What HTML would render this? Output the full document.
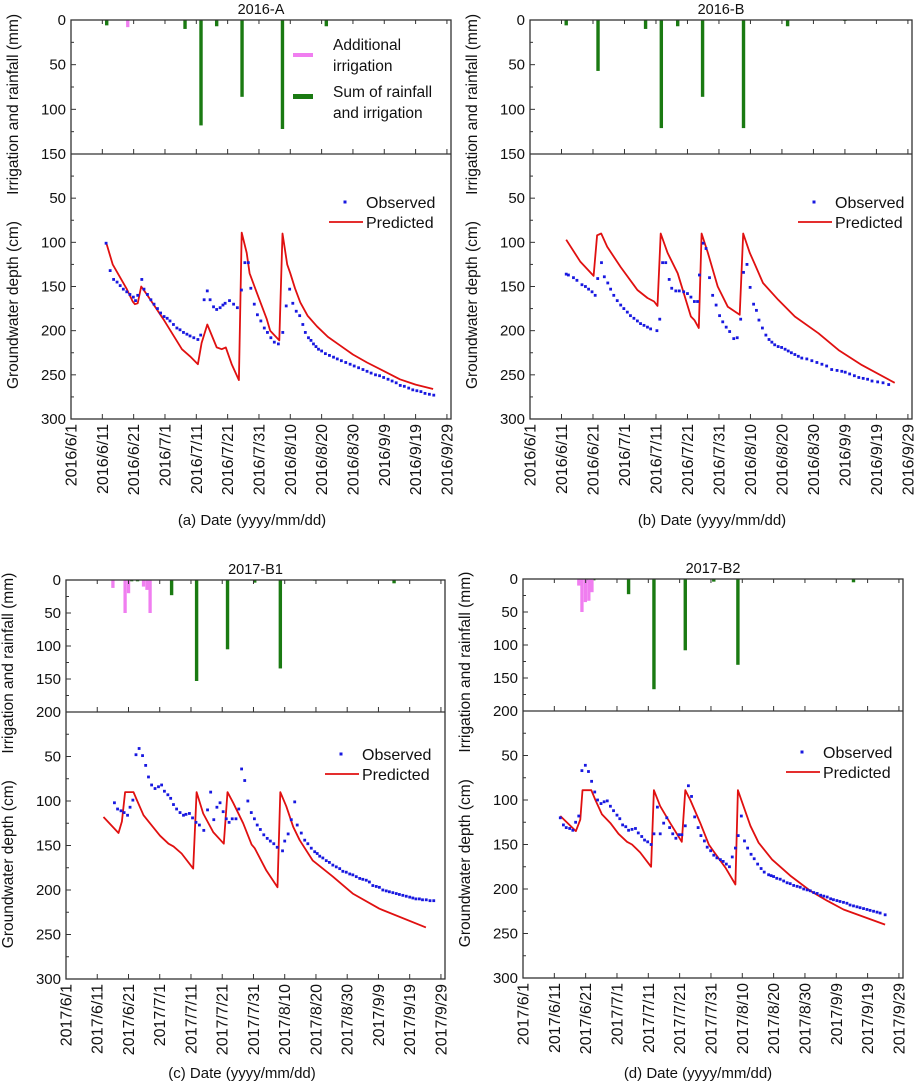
<!DOCTYPE html>
<html><head><meta charset="utf-8"><style>
body{margin:0;background:#fff;}
svg{display:block;font-family:"Liberation Sans",sans-serif;}
</style></head><body>
<svg id="fig" width="923" height="1086" viewBox="0 0 923 1086" xmlns="http://www.w3.org/2000/svg"></svg>
<script>
// ===== Panel (a) 2016-A =====
const aIrrDays=[18.1];
const aIrrVals=[8];
const aSumDays=[11.4,36.4,41.5,46.5,54.6,67.5,81.5];
const aSumVals=[6,10,118,7,86,122,7];
const aPredDays=[11.2,13.3,17.8,19.7,20.4,21.3,22.4,24.2,29.5,35.4,38,40.5,41.7,43.5,46.5,48.1,49.4,51.3,53.6,54.5,56.1,57,59.3,62.5,63.6,66.5,67.5,69,70,71.5,73.2,75.5,78.5,82,86,90,94.5,100,105,110,115.6];
const aPredVals=[100,125,153,167,170,169,150,159,187,221,229,238,214,193,219,221,219,238,256,89,112,135,157,187,200,211,90,125,135,152,168,183,195,207,217,227,236,246,255,261,266];
const aObsDays=[11.2,12.5,13.6,14.7,15.7,16.7,17.8,18.8,19.9,20.6,21.3,22.6,23.3,24.4,25.5,26.5,27.6,28.6,29.7,30.7,31.6,32.7,33.8,34.8,35.9,37,38,39.2,40.5,41.4,42.5,43.5,44.4,45.5,46.5,47.6,48.5,49.2,50.6,51.9,53.1,54.4,55.5,56.6,57.4,58.5,59.5,60.6,61.7,62.7,63.8,64.9,66.2,67.6,68.7,69.8,70.8,71.9,73,74,74.8,75.8,76.6,77.4,78.2,79,80,81.2,82.5,83.8,85,86.3,87.7,89.1,90.4,91.8,93.2,94.5,95.8,97.2,98.5,99.8,101.2,102.5,103.8,105.1,106.4,107.8,109.1,110.4,111.7,113,114.4,115.8];
const aObsVals=[101,132,142,145,149,153,156,159,162,166,160,142,153,159,165,170,175,180,184,186,189,193,197,199,202,204,206,208,210,205,165,155,165,173,176,174,171,169,166,170,174,154,123,123,152,170,182,189,197,202,208,213,215,202,172,153,169,178,183,193,202,208,211,215,218,221,223,226,228,230,232,234,236,238,240,242,244,246,248,250,251,253,255,257,259,262,263,265,267,268,269,271,272,273];
// ===== Panel (b) 2016-B =====
const bIrrDays=[];
const bIrrVals=[];
const bSumDays=[11.5,21.6,36.7,41.7,46.9,54.8,67.8,81.8,100];
const bSumVals=[6,57,10,121,7,86,121,7,1];
const bPredDays=[11.5,16,20.2,21.3,22.6,24.5,28.8,34.1,37.3,39.4,40.5,41.5,43.7,46.9,51.1,52.2,53.6,54.5,56.5,59.6,62.8,66.6,67.7,69.8,71.4,74,78.8,84.1,91.6,98,105.4,115.8];
const bPredVals=[97,122,138,92,90,105,128,154,163,167,172,90,112,135,184,188,197,90,112,150,173,182,90,112,125,146,165,184,203,222,239,259];
const bObsDays=[11.5,12.2,13.8,14.9,16.5,17.6,18.6,19.7,20.7,21.5,22.7,23.6,24.7,25.6,26.6,27.7,28.8,29.8,30.9,31.9,33,34.1,35.1,36.2,37.3,38.3,40.3,41.2,42.1,43.1,44.2,45,46.3,47.4,48.8,50,51.1,52.2,53.2,53.8,55,55.9,57,58,59.1,60.2,61.2,62.3,63.4,64.7,65.8,66.9,67.8,68.9,69.9,71,71.9,72.7,73.8,74.9,75.9,76.8,77.7,78.8,79.9,81,82,83,84.1,85.2,86.3,87.9,89.5,91.1,92.7,94.2,95.8,97.5,99,100.1,101.5,103,104.4,105.8,107.2,108.6,110.4,112.1,113.9];
const bObsVals=[136,137,140,143,148,150,153,156,160,141,123,139,146,153,160,166,171,175,179,183,186,189,192,194,196,198,200,187,123,123,142,152,155,155,156,158,162,167,167,137,101,107,140,160,171,183,190,196,201,209,208,187,134,125,151,170,177,188,197,205,210,213,216,218,219,221,223,225,227,229,231,232,234,236,238,240,244,245,246,247,249,251,253,254,255,257,258,259,261];
// ===== Panel (c) 2017-B1 =====
const cIrrDays=[15,18.9,20,24.8,25.9,26.9];
const cIrrVals=[12,50,20,10,15,50];
const cSumDays=[21,22.9,33.8,41.8,51.7,60.4,68.6,79.6,105];
const cSumVals=[2,2,23,153,105,4,134,1,5];
const cPredDays=[12,16.8,17.9,18.9,21.6,22.7,24.8,26.9,30.1,32.8,34.4,37,40.7,41.8,43.9,47.1,50.5,51.7,53.5,56.7,59.4,60.4,64.1,67.7,68.6,70.5,72.7,74.8,79,85.4,91.8,100.3,115.2];
const cPredVals=[118,136,123,90,90,99,116,125,139,148,151,159,176,90,114,135,148,90,102,125,149,153,178,197,90,106,129,144,167,185,204,221,242];
const cObsDays=[15.5,16.5,17.6,18.6,19.7,20.5,21.4,22.4,23.4,24.5,25.5,26.4,27.4,28.5,29.6,30.6,31.5,32.6,33.5,34.4,35.4,36.5,37.6,38.4,39.5,40.5,41.6,42.7,44.1,45.3,46.3,47.3,48.3,49.3,50.3,51.3,52.2,53.2,54.4,55.3,56.2,57.2,58.2,59.3,60.3,61.2,62.2,63.3,64.4,65.4,66.5,67.6,69.3,70,71.1,72.1,73.2,74,75.3,76.4,77.4,78.5,79.6,80.4,81.2,82.2,83.3,84.3,85.4,86.5,87.6,88.6,89.7,90.8,91.8,92.9,94,95,96.1,97.1,98.2,99.3,100.3,101.4,102.5,103.5,104.6,105.7,106.7,107.8,108.9,110,111,112,113.1,114.1,115.3,116.5,117.7,118.9];
const cObsVals=[102,109,111,113,116,107,99,48,41,49,60,73,82,86,84,82,89,93,97,104,109,113,116,115,114,119,124,127,133,110,90,121,107,102,112,120,124,120,120,109,64,77,100,113,120,127,132,138,142,145,148,152,156,145,137,121,101,127,136,144,148,153,157,159,162,164,167,169,172,174,176,179,180,182,183,185,187,188,189,191,195,196,197,200,201,202,203,204,205,206,207,208,209,210,210,211,211,212,212];
// ===== Panel (d) 2017-B2 =====
const dIrrDays=[17.8,18.8,19.9,21,22];
const dIrrVals=[10,50,35,33,20];
const dSumDays=[20.4,22.6,33.7,41.8,51.8,60.9,68.6,105.5];
const dSumVals=[2,2,23,167,108,4,130,5];
const dPredDays=[11.9,16.9,18.3,19,21.8,23.1,25.2,27.9,30.5,33.2,34.8,37.4,40.9,41.8,43.8,47,50.7,51.8,53.4,56.6,59.3,60.9,64.6,67.8,68.6,70.4,72.6,75.2,79.5,85.3,91.7,97,102.3,115.6];
const dPredVals=[118,135,122,89,89,100,116,126,138,147,150,159,175,89,107,126,147,89,100,126,150,158,176,195,89,107,129,148,167,185,202,213,223,240];
const dObsDays=[11.9,12.9,13.8,14.9,15.9,16.8,17.8,18.8,19.9,20.9,21.9,22.9,23.8,24.9,25.9,26.9,27.9,28.9,30,30.9,31.8,32.8,33.7,34.8,35.9,36.8,37.9,38.8,39.8,40.9,41.8,42.9,43.8,44.9,45.9,46.8,47.8,48.8,49.8,50.7,51.8,52.8,53.8,54.8,55.9,56.8,57.9,58.8,59.9,60.9,61.9,63,63.9,64.9,65.9,66.8,67.8,68.7,69.7,70.7,71.7,72.8,73.8,74.9,76,77,78.4,79.2,80,81,82.1,83.2,84.3,85.3,86.4,87.5,88.5,89.6,90.7,91.7,92.8,93.9,95,96,97.1,98.2,99.1,100.2,101.2,102.3,103.4,104.4,105.5,106.6,107.6,108.7,109.8,110.8,111.9,113,114,115.6];
const dObsVals=[120,128,131,132,134,125,118,67,61,68,79,91,100,104,102,101,107,112,117,121,128,130,134,133,132,137,141,145,147,150,138,108,138,126,120,131,138,143,139,139,129,84,96,119,131,140,146,153,157,162,165,167,169,172,175,164,154,140,118,146,154,161,166,172,177,181,184,185,186,188,189,191,193,194,196,197,198,200,201,202,204,205,207,208,209,211,212,213,214,215,216,218,219,220,221,222,223,224,225,226,227,229];

const dateLabels16=["2016/6/1","2016/6/11","2016/6/21","2016/7/1","2016/7/11","2016/7/21","2016/7/31","2016/8/10","2016/8/20","2016/8/30","2016/9/9","2016/9/19","2016/9/29"];
const dateLabels17=["2017/6/1","2017/6/11","2017/6/21","2017/7/1","2017/7/11","2017/7/21","2017/7/31","2017/8/10","2017/8/20","2017/8/30","2017/9/9","2017/9/19","2017/9/29"];
const depthTicks=[50,100,150,200,250,300];

const NS="http://www.w3.org/2000/svg";
const svg=document.getElementById('fig');
function mk(tag,attrs,parent){const e=document.createElementNS(NS,tag);for(const k in attrs)e.setAttribute(k,attrs[k]);(parent||svg).appendChild(e);return e;}
function txt(s,attrs,parent){const t=mk('text',attrs,parent);t.textContent=s;return t;}

function panel(o){
  const g=mk('g',{});
  
  
  const L=o.L,R=o.R,T=o.T,M=o.M,B=o.B;
  const xS=d=>L+d*(R-L)/121.3;
  const yBar=v=>T+v*(M-T)/o.barMax;
  const yDep=v=>M+v*(B-M)/300;
  for(let i=0;i<Math.min(o.sumDays.length,o.sumVals.length);i++){
    const r=mk('rect',{x:xS(o.sumDays[i])-1.7,y:T,width:3.4,height:yBar(o.sumVals[i])-T,fill:'#1a7a12'},g);
    
    
  }
  for(let i=0;i<Math.min(o.irrDays.length,o.irrVals.length);i++){
    const r=mk('rect',{x:xS(o.irrDays[i])-1.6,y:T,width:3.3,height:yBar(o.irrVals[i])-T,fill:'#f07ef0'},g);
    
    
  }
  const f=mk('rect',{x:L,y:T,width:R-L,height:B-T,fill:'none',stroke:'#333','stroke-width':1.3},g);
  
  
  mk('line',{x1:L,x2:R,y1:M,y2:M,stroke:'#333','stroke-width':1.3},g);
  for(let k=0;k<=12;k++){
    const x=xS(k*10);
    mk('line',{x1:x,x2:x,y1:B,y2:B-5,stroke:'#333'},g);
    mk('line',{x1:x,x2:x,y1:M,y2:M-5,stroke:'#333'},g);
    mk('line',{x1:x,x2:x,y1:T,y2:T+4,stroke:'#333'},g);
    const t=txt(o.dates[k],{x:0,y:0,transform:`translate(${x+5.5},${B+5}) rotate(-90)`,'text-anchor':'end','font-size':16,fill:'#111'},g);
    
    
  }
  for(let v=0;v<=o.barMax;v+=25){
    const y=yBar(v);const major=v%50===0;
    mk('line',{x1:L,x2:L+(major?5:3),y1:y,y2:y,stroke:'#333'},g);
    if(major){const t=txt(String(v),{x:L-5,y:y+5,'text-anchor':'end','font-size':15,fill:'#111'},g);
      
      }
  }
  for(let v=25;v<=300;v+=25){
    const y=yDep(v);const major=v%50===0;
    mk('line',{x1:L,x2:L+(major?5:3),y1:y,y2:y,stroke:'#333'},g);
  }
  depthTicks.forEach(v=>{const t=txt(String(v),{x:L-5,y:yDep(v)+5,'text-anchor':'end','font-size':15,fill:'#111'},g);
    
    });
  const n=Math.min(o.predDays.length,o.predVals.length);
  const pts=o.predDays.slice(0,n).map((d,i)=>xS(d).toFixed(1)+','+yDep(o.predVals[i]).toFixed(1)).join(' ');
  const pl=mk('polyline',{points:pts,fill:'none',stroke:'#e01010','stroke-width':1.8,'stroke-linejoin':'round'},g);
  
  
  for(let i=0;i<Math.min(o.obsDays.length,o.obsVals.length);i++){
    const r=mk('rect',{x:xS(o.obsDays[i])-1.4,y:yDep(o.obsVals[i])-1.4,width:2.8,height:2.8,fill:'#1818e0'},g);
    
    
  }
  const tt=txt(o.title,{x:(L+R)/2,y:T-6,'text-anchor':'middle','font-size':14.5,fill:'#111'},g);
  
  
  const a1=txt('Irrigation and rainfall (mm)',{x:0,y:0,transform:`translate(${L-53},${T+(M-T)*0.63}) rotate(-90)`,'text-anchor':'middle','font-size':15.5,fill:'#111'},g);
  
  
  const a2=txt('Groundwater depth (cm)',{x:0,y:0,transform:`translate(${L-53},${M+(B-M)*0.57}) rotate(-90)`,'text-anchor':'middle','font-size':15.5,fill:'#111'},g);
  
  
  const xl=txt(o.xlabel,{x:o.xlx,y:o.xly,'text-anchor':'middle','font-size':15,fill:'#111'},g);
  
  
  const lg=mk('g',{},g);
  
  
  mk('rect',{x:o.lgx-1.5,y:o.lgy-1.5,width:3,height:3,fill:'#1818e0'},lg);
  txt('Observed',{x:o.lgx+21,y:o.lgy+6,'font-size':16,fill:'#111'},lg);
  mk('line',{x1:o.lgx-16,x2:o.lgx+18,y1:o.lgy+20,y2:o.lgy+20,stroke:'#e01010','stroke-width':1.8},lg);
  txt('Predicted',{x:o.lgx+21,y:o.lgy+26,'font-size':16,fill:'#111'},lg);
}

panel({id:'2016-A',title:'2016-A',L:71,R:451,T:20,M:154,B:419,barMax:150,dates:dateLabels16,irrDays:aIrrDays,irrVals:aIrrVals,sumDays:aSumDays,sumVals:aSumVals,predDays:aPredDays,predVals:aPredVals,obsDays:aObsDays,obsVals:aObsVals,xlabel:'(a) Date (yyyy/mm/dd)',xlx:252,xly:525,lgx:345,lgy:202});
panel({id:'2016-B',title:'2016-B',L:530,R:912,T:20,M:154,B:419,barMax:150,dates:dateLabels16,irrDays:bIrrDays,irrVals:bIrrVals,sumDays:bSumDays,sumVals:bSumVals,predDays:bPredDays,predVals:bPredVals,obsDays:bObsDays,obsVals:bObsVals,xlabel:'(b) Date (yyyy/mm/dd)',xlx:712,xly:525,lgx:814,lgy:202});
panel({id:'2017-B1',title:'2017-B1',L:66,R:445,T:580,M:712,B:979,barMax:200,dates:dateLabels17,irrDays:cIrrDays,irrVals:cIrrVals,sumDays:cSumDays,sumVals:cSumVals,predDays:cPredDays,predVals:cPredVals,obsDays:cObsDays,obsVals:cObsVals,xlabel:'(c) Date (yyyy/mm/dd)',xlx:242,xly:1078,lgx:341,lgy:754});
panel({id:'2017-B2',title:'2017-B2',L:523,R:903,T:579,M:711,B:978,barMax:200,dates:dateLabels17,irrDays:dIrrDays,irrVals:dIrrVals,sumDays:dSumDays,sumVals:dSumVals,predDays:dPredDays,predVals:dPredVals,obsDays:dObsDays,obsVals:dObsVals,xlabel:'(d) Date (yyyy/mm/dd)',xlx:698,xly:1078,lgx:802,lgy:752});

const bl=mk('g',{});


mk('rect',{x:293,y:53,width:20,height:4,fill:'#f07ef0'},bl);
txt('Additional',{x:333,y:50,'font-size':15.5,fill:'#111'},bl);
txt('irrigation',{x:333,y:71,'font-size':15.5,fill:'#111'},bl);
mk('rect',{x:293,y:94,width:20,height:5,fill:'#1a7a12'},bl);
txt('Sum of rainfall',{x:333,y:97,'font-size':15.5,fill:'#111'},bl);
txt('and irrigation',{x:333,y:118,'font-size':15.5,fill:'#111'},bl);
</script>
</body></html>
